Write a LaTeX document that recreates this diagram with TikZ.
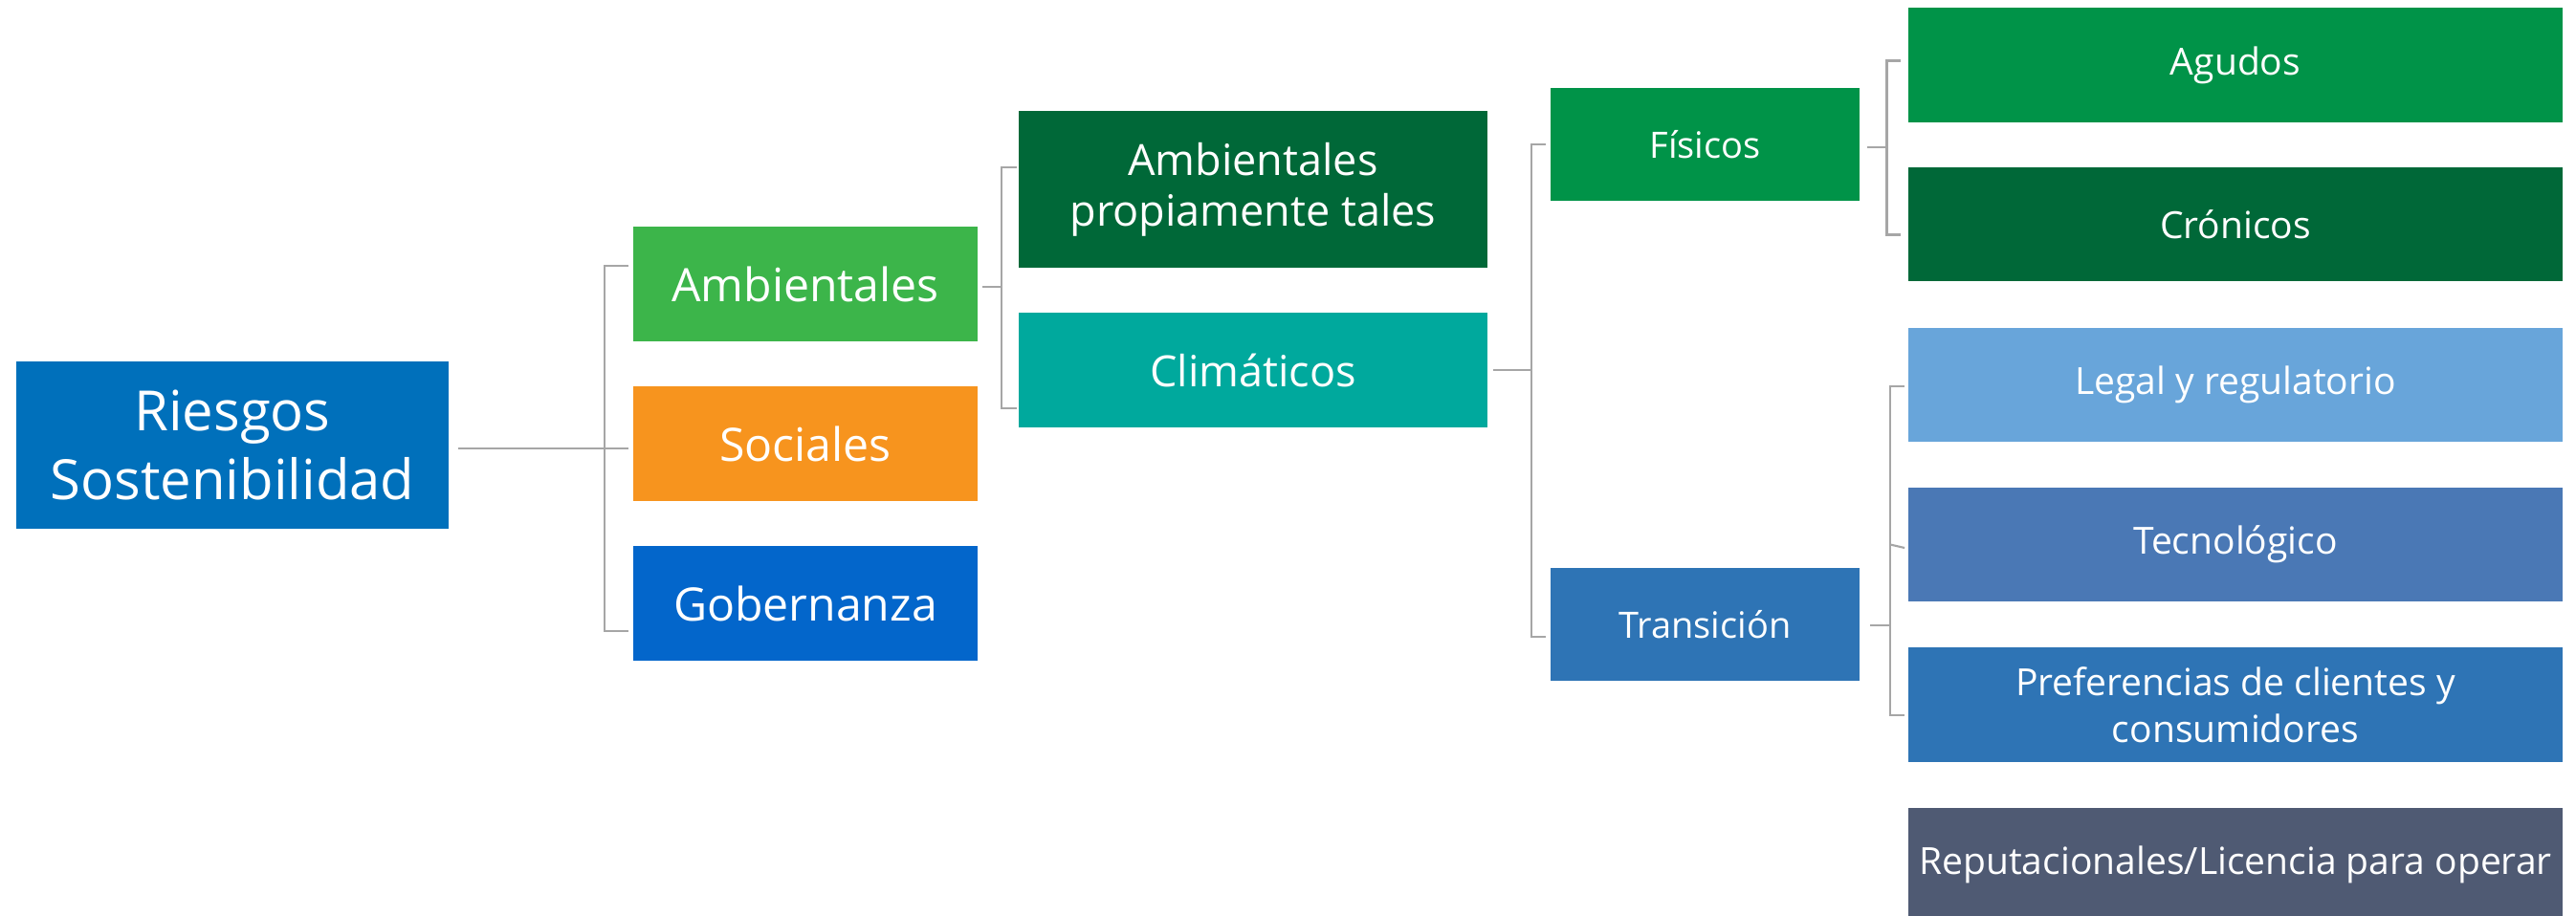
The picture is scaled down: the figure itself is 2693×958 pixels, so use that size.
\documentclass[tikz,border=0pt]{standalone}
\usepackage{fontspec}
\setmainfont{Open Sans}
\definecolor{riesgoblue}{HTML}{0070BB}
\definecolor{ambgreen}{HTML}{3CB54A}
\definecolor{socorange}{HTML}{F7941E}
\definecolor{gobblue}{HTML}{0366CB}
\definecolor{darkgreen}{HTML}{006838}
\definecolor{climteal}{HTML}{00A99D}
\definecolor{midgreen}{HTML}{009348}
\definecolor{transblue}{HTML}{2E74B5}
\definecolor{legalblue}{HTML}{68A5DA}
\definecolor{tecblue}{HTML}{4A78B5}
\definecolor{reputgray}{HTML}{4F5A73}
\definecolor{linegray}{HTML}{A6A6A6}
\tikzset{
	box/.style={rectangle, inner sep=0pt, text=white, align=center},
	rootbox/.style={box, minimum width=4.52cm, minimum height=1.75cm, font=\fontsize{16.5}{20.2}\selectfont},
	lvlone/.style={box, minimum width=3.6cm, minimum height=1.2cm, font=\fontsize{13.7}{16}\selectfont},
	lvltwo/.style={box, minimum width=4.9cm, minimum height=1.19cm, font=\fontsize{12.8}{15.1}\selectfont},
	lvlthree/.style={box, minimum width=3.23cm, minimum height=1.18cm, font=\fontsize{10.8}{13}\selectfont},
	leafbox/.style={box, minimum width=6.84cm, minimum height=1.19cm, font=\fontsize{11.1}{13.9}\selectfont},
	link/.style={draw=linegray, line width=0.6pt},
}

\begin{document}
\begin{tikzpicture}[x=0.01cm, y=-0.01cm]
	\useasboundingbox (0,0) rectangle (2693,958);

	\node[rootbox, fill=riesgoblue] (riesgos) at (243,465.5) {Riesgos\\Sostenibilidad};

	\node[lvlone, fill=ambgreen] (ambientales) at (842,297) {Ambientales};
	\node[lvlone, fill=socorange] (sociales) at (842,464) {Sociales};
	\node[lvlone, fill=gobblue] (gobernanza) at (842,631) {Gobernanza};

	\node[lvltwo, fill=darkgreen, minimum height=1.64cm] (propias) at (1310,198) {Ambientales\\propiamente tales};
	\node[lvltwo, fill=climteal] (climaticos) at (1310,387) {Climáticos};

	\node[lvlthree, fill=midgreen] (fisicos) at (1782.5,151) {Físicos};
	\node[lvlthree, fill=transblue] (transicion) at (1782.5,653) {Transición};

	\node[leafbox, fill=midgreen] (agudos) at (2337,68) {Agudos};
	\node[leafbox, fill=darkgreen] (cronicos) at (2337,234.5) {Crónicos};
	\node[leafbox, fill=legalblue] (legal) at (2337,402.5) {Legal y regulatorio};
	\node[leafbox, fill=tecblue] (tecnologico) at (2337,569.5) {Tecnológico};
	\node[leafbox, fill=transblue] (preferencias) at (2337,737) {Preferencias de clientes y\\consumidores};
	\node[leafbox, fill=reputgray] (reputacionales) at (2337,904.5) {Reputacionales/Licencia para operar};

	\coordinate (j1) at (632,469);
	\draw[link] ([shift={(9,3.5)}]riesgos.east) -- (j1);
	\draw[link] ([shift={(-4,-19)}]ambientales.west) -| (j1) |- ([shift={(-4,29)}]gobernanza.west);
	\draw[link] (j1) -- ([shift={(-4,5)}]sociales.west);

	\coordinate (j2) at (1047,300);
	\draw[link] ([shift={(4,3)}]ambientales.east) -- (j2);
	\draw[link] ([shift={(-1,-23)}]propias.west) -| (j2) |- ([shift={(-1,40)}]climaticos.west);

	\coordinate (j3) at (1601,387);
	\draw[link] ([xshift=0.05cm]climaticos.east) -- (j3);
	\draw[link] ([shift={(-4,0)}]fisicos.west) -| (j3) |- ([shift={(-4,13)}]transicion.west);

	\coordinate (j4) at (1972.5,154);
	\draw[link] ([shift={(7,3)}]fisicos.east) -- (j4);
	\draw[link] ([shift={(-7,-4.5)}]agudos.west) -| (j4) |- ([shift={(-7,11)}]cronicos.west);

	\coordinate (j5) at (1976,654);
	\draw[link] ([shift={(10,1)}]transicion.east) -- (j5);
	\draw[link] ([shift={(-3,1.5)}]legal.west) -| (j5) |- ([shift={(-3,11)}]preferencias.west);
	\draw[link] ([shift={(-3,3.5)}]tecnologico.west) -- (tecnologico.west -| j5);
\end{tikzpicture}
\end{document}
